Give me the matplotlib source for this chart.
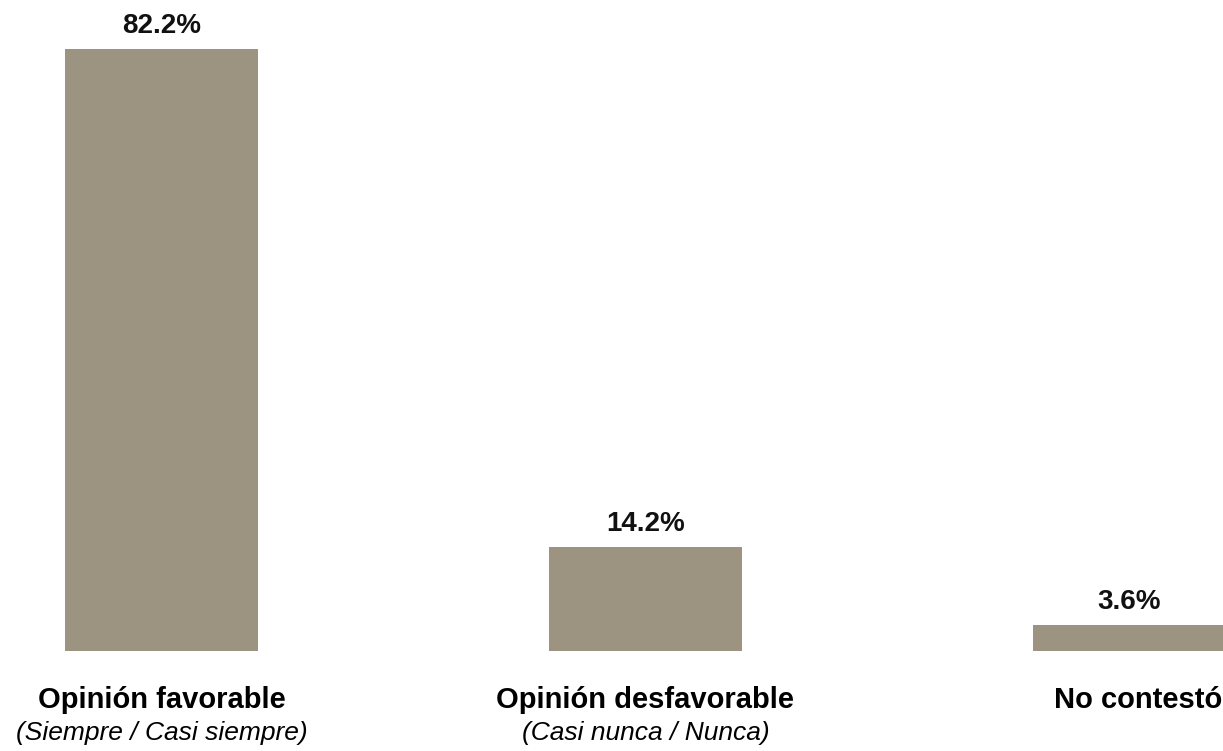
import matplotlib.pyplot as plt

categories = ["Opinión favorable", "Opinión desfavorable", "No contestó"]
subtitles = ["(Siempre / Casi siempre)", "(Casi nunca / Nunca)", ""]
values = [82.2, 14.2, 3.6]

bar_color = "#9c9381"
plt.rcParams["font.family"] = ["Liberation Sans", "DejaVu Sans"]

fig = plt.figure(figsize=(12.23, 7.51), dpi=100)
# baseline sits 100 px above the bottom edge
ax = fig.add_axes([0, 100 / 751, 1, 651 / 751])

px_per_unit = 484.0
x0 = 161.5
ax.set_xlim(-x0 / px_per_unit, (1223 - x0) / px_per_unit)
ax.set_ylim(0, 651 / 7.32)
ax.axis("off")

xs = range(len(values))
ax.bar(xs, values, width=0.4, color=bar_color, edgecolor="none")

for x, v in zip(xs, values):
    ax.text(x, v + 16 / 7.32, f"{v:.1f}%", ha="center", va="baseline",
            fontsize=20, fontweight="bold", color="#111111")

for x, cat, sub in zip(xs, categories, subtitles):
    # the last label is pushed against the right edge in the original
    shift = 9 / px_per_unit if x == len(values) - 1 else 0
    ax.text(x + shift, -57 / 7.32, cat, ha="center", va="baseline", fontsize=21,
            fontweight="bold", color="#000000", clip_on=False)
    if sub:
        ax.text(x, -89 / 7.32, sub, ha="center", va="baseline", fontsize=19,
                fontstyle="italic", color="#000000", clip_on=False)

fig.savefig("out.png", dpi=100)
